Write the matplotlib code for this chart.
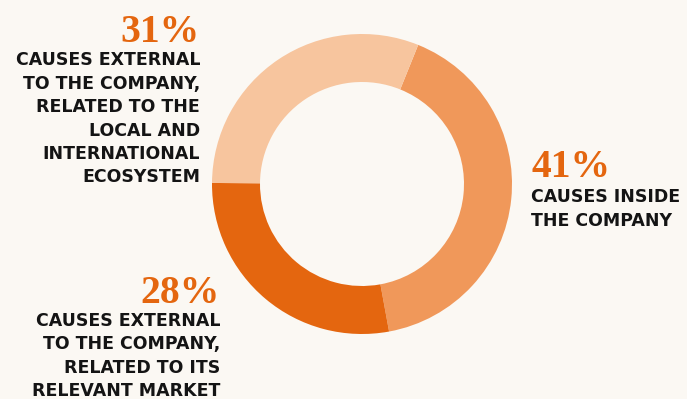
import matplotlib.pyplot as plt

# share of causes, drawn clockwise from the "inside" slice
shares = [41, 28, 31]
percent_labels = ["41%", "28%", "31%"]
cause_labels = [
    ["CAUSES INSIDE", "THE COMPANY"],
    ["CAUSES EXTERNAL", "TO THE COMPANY,", "RELATED TO ITS", "RELEVANT MARKET"],
    ["CAUSES EXTERNAL", "TO THE COMPANY,", "RELATED TO THE", "LOCAL AND",
     "INTERNATIONAL", "ECOSYSTEM"],
]
slice_colors = ["#F0985A", "#E4660F", "#F7C59E"]

bg = "#FBF8F3"
accent = "#E4660F"
ink = "#141414"

fig = plt.figure(figsize=(6.87, 3.99), dpi=100, facecolor=bg)
ax = fig.add_axes([0, 0, 1, 1])
ax.set_facecolor(bg)

ax.pie(shares, colors=slice_colors, startangle=68, counterclock=False,
       center=(362, 215), radius=150,
       wedgeprops=dict(width=48, linewidth=0))
# one data unit per pixel
ax.set_xlim(0, 687)
ax.set_ylim(0, 399)
ax.axis("off")

# label blocks: (x, baseline of percentage, first text baseline, alignment)
blocks = [
    (531, 222, 197, "left"),
    (220, 96, 73, "right"),
    (200, 357, 334, "right"),
]
step = 23.5

for (x, y_pct, y_txt, ha), pct, lines in zip(blocks, percent_labels, cause_labels):
    ax.text(x, y_pct, pct, ha=ha, va="baseline", color=accent,
            fontsize=28.5, fontweight="bold", family="Liberation Serif")
    for i, line in enumerate(lines):
        ax.text(x, y_txt - i * step, line, ha=ha, va="baseline", color=ink,
                fontsize=12.5, fontweight="bold", family="DejaVu Sans")

fig.savefig("out.png", dpi=100, facecolor=bg)
